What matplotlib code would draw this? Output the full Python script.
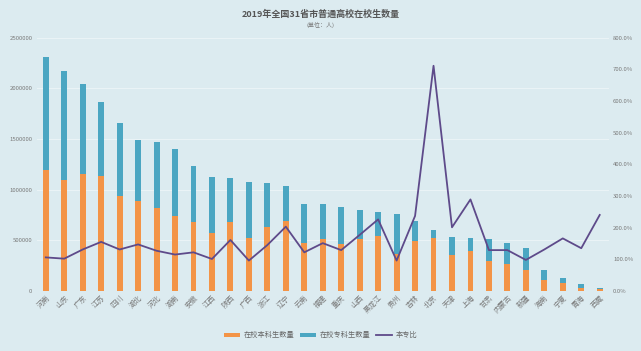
import matplotlib
matplotlib.use("Agg")
import matplotlib.pyplot as plt
from matplotlib.ticker import FuncFormatter, MultipleLocator
import numpy as np

plt.rcParams['font.family'] = ['Noto Sans CJK SC', 'DejaVu Sans']

provinces = ['河南', '山东', '广东', '江苏', '四川', '湖北', '河北', '湖南', '安徽', '江西',
             '陕西', '广西', '浙江', '辽宁', '云南', '福建', '重庆', '山西', '黑龙江', '贵州',
             '吉林', '北京', '天津', '上海', '甘肃', '内蒙古', '新疆', '海南', '宁夏', '青海', '西藏']
total = [2311000, 2173000, 2045000, 1867000, 1654000, 1492000, 1466000, 1400000, 1236000, 1127000,
         1117000, 1072000, 1065000, 1036000, 858000, 855000, 831000, 796000, 776000, 759000,
         693000, 598000, 529000, 520000, 516000, 470000, 421000, 204000, 131000, 69000, 33000]
undergrad = [1193000, 1095000, 1151000, 1134000, 940000, 891000, 819000, 743000, 677000, 569000,
             684000, 520000, 628000, 690000, 470000, 510000, 463000, 510000, 542000, 365000,
             493000, 526000, 355000, 391000, 296000, 263000, 207000, 111000, 79000, 33000, 20000]
junior = [t - u for t, u in zip(total, undergrad)]
ratio = [106, 102, 131, 155, 131, 147, 127, 115, 122, 101,
         161, 96, 145, 203, 122, 151, 129, 177, 226, 96,
         237, 711, 201, 289, 129, 129, 98, 131, 166, 135, 240]

bg = '#dcebf0'
c_orange = '#f39447'
c_blue = '#4ba6c2'
c_line = '#5e4a8a'
txt = '#7a7a7a'

fig = plt.figure(figsize=(6.41, 3.51), dpi=100, facecolor=bg)
ax = fig.add_axes([0.057, 0.171, 0.893, 0.722], facecolor=bg)
x = np.arange(len(provinces))
w = 0.32
b1 = ax.bar(x, undergrad, w, color=c_orange, label='在校本科生数量', zorder=2)
b2 = ax.bar(x, junior, w, bottom=undergrad, color=c_blue, label='在校专科生数量', zorder=2)
ax.set_ylim(0, 2500000)
ax.set_xlim(-0.5, len(provinces) - 0.5)
ax.yaxis.set_major_locator(MultipleLocator(500000))
ax.yaxis.set_major_formatter(FuncFormatter(lambda v, p: f'{int(v)}'))
ax.grid(axis='y', color='#eaf3f6', linewidth=0.8, zorder=0)
ax.set_axisbelow(True)
for s in ax.spines.values():
    s.set_visible(False)
ax.tick_params(axis='y', length=0, labelsize=4.3, labelcolor=txt, pad=3)
ax.tick_params(axis='x', length=0, labelsize=5.2, labelcolor=txt, pad=2)
ax.set_xticks(x)
ax.set_xticklabels(provinces, rotation=45, ha='right', rotation_mode='anchor')

ax2 = ax.twinx()
l, = ax2.plot(x, ratio, color=c_line, linewidth=1.3, label='本专比', zorder=3)
ax2.set_ylim(0, 800)
ax2.yaxis.set_major_locator(MultipleLocator(100))
ax2.yaxis.set_major_formatter(FuncFormatter(lambda v, p: f'{v:.1f}%'))
for s in ax2.spines.values():
    s.set_visible(False)
ax2.tick_params(axis='y', length=0, labelsize=4.3, labelcolor=txt, pad=3)

fig.text(0.5, 0.958, '2019年全国31省市普通高校在校生数量', ha='center', va='center',
         fontsize=6.5, color='#555555', fontweight='bold')
fig.text(0.5, 0.928, '(单位：人)', ha='center', va='center', fontsize=4.3, color='#777777')

fig.legend(handles=[b1, b2, l], loc='center', bbox_to_anchor=(0.5, 0.045), ncol=3,
           frameon=False, fontsize=5.2, handlelength=2.2, handleheight=0.5,
           columnspacing=0.8, handletextpad=0.5, labelcolor='#666666')

fig.savefig('out.png', dpi=100, facecolor=bg)
